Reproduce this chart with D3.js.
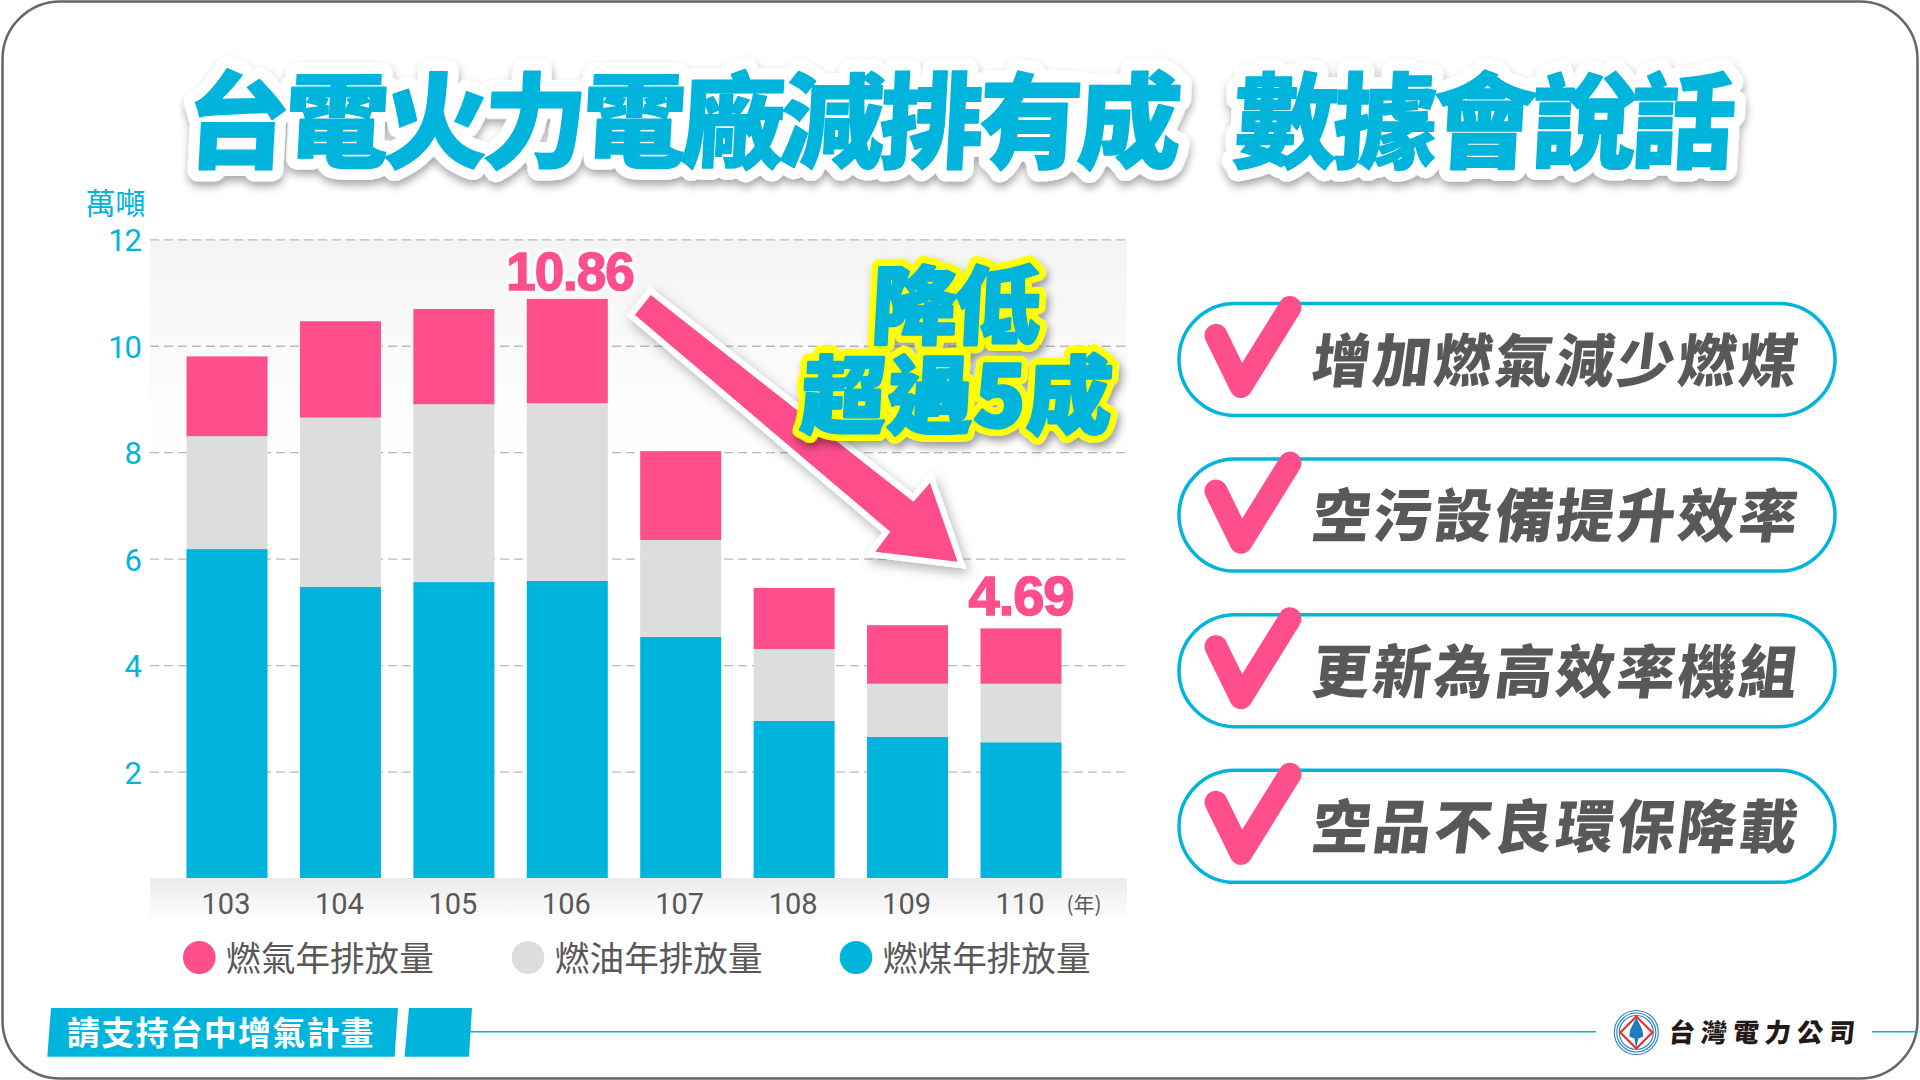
<!DOCTYPE html>
<html><head><meta charset="utf-8">
<script src="https://cdn.jsdelivr.net/npm/d3@7"></script>
<style>
html,body{margin:0;padding:0;background:#fff;overflow:hidden}
svg{display:block}
text{font-family:"Noto Sans CJK TC","Noto Sans",sans-serif}
.num{font-family:Roboto,"Liberation Sans",Arial,sans-serif}
.numb{font-family:"Liberation Sans",Arial,sans-serif}
</style></head><body>
<svg id="c" width="1920" height="1080" xmlns="http://www.w3.org/2000/svg"></svg>
<script>
// ---- data ----
const years = ["103","104","105","106","107","108","109","110"];
const coal  = [6.18,5.47,5.56,5.58,4.53,2.95,2.65,2.55];
const oil   = [2.12,3.18,3.34,3.34,1.82,1.35,1.00,1.10];
const gas   = [1.50,1.81,1.79,1.96,1.67,1.15,1.10,1.04];
const yTicks = [2,4,6,8,10,12];
const seriesKeys = ["coal","oil","gas"];
const seriesColors = ["#00b4dc","#dcdddd","#ff4e8c"];
const legendLabels = ["燃氣年排放量","燃油年排放量","燃煤年排放量"];
const legendColors = ["#ff4e8c","#dcdddd","#00b4dc"];
const pillLabels = ["增加燃氣減少燃煤","空污設備提升效率","更新為高效率機組","空品不良環保降載"];
const titleLeft = "台電火力電廠減排有成";
const titleRight = "數據會說話";
const callouts = ["10.86","4.69"];

const BLUE="#00b4dc", PINK="#ff4e8c", INK="#595757";
const svg=d3.select("#c");
const defs=svg.append("defs");

function shadow(id,dx,dy,b,op){
  const f=defs.append("filter").attr("id",id).attr("x","-20%").attr("y","-20%").attr("width","140%").attr("height","140%");
  f.append("feDropShadow").attr("dx",dx).attr("dy",dy).attr("stdDeviation",b).attr("flood-color","#000").attr("flood-opacity",op);
}
shadow("sTitle",1,5,4,.35);
shadow("sArrow",3,5,6,.3);
shadow("sBig",3,5,4,.4);

function vgrad(id,stops){
  const g=defs.append("linearGradient").attr("id",id).attr("x1",0).attr("x2",0).attr("y1",0).attr("y2",1);
  stops.forEach(s=>g.append("stop").attr("offset",s[0]).attr("stop-color",s[1]));
}
vgrad("gTop",[[0,"#f4f4f4"],[.5,"#fafafa"],[1,"#ffffff"]]);
vgrad("gBot",[[0,"#ebebeb"],[1,"#ffffff"]]);

// frame
svg.append("rect").attr("x",2.5).attr("y",1.5).attr("width",1915).attr("height",1077)
  .attr("rx",58).attr("fill","#fff").attr("stroke","#666").attr("stroke-width",2.5);

// scales
const x=d3.scaleBand().domain(years).range([186.5,1061.5]).paddingInner(0.2857).paddingOuter(0);
const y=d3.scaleLinear().domain([0,12]).range([878,239.3]);
const plotL=150, plotR=1127;

// plot backgrounds
svg.append("rect").attr("x",plotL).attr("y",y(12)).attr("width",plotR-plotL).attr("height",y(7.8)-y(12)).attr("fill","url(#gTop)");
svg.append("rect").attr("x",plotL).attr("y",y(0)).attr("width",plotR-plotL).attr("height",44).attr("fill","url(#gBot)");

// grid
const grid=svg.append("g").attr("transform",`translate(${plotL},0)`)
  .call(d3.axisRight(y).tickValues(yTicks).tickSize(plotR-plotL).tickFormat(""));
grid.select(".domain").remove();
grid.selectAll("line").attr("stroke","#b9b9b9").attr("stroke-width",1.3).attr("stroke-dasharray","9 5");

// y axis
const ya=svg.append("g").attr("transform","translate(141,0)")
  .call(d3.axisLeft(y).tickValues(yTicks).tickSize(0).tickPadding(0));
ya.select(".domain").remove();
ya.selectAll("text").attr("class","num").attr("font-size",31).attr("letter-spacing",-1).attr("fill",BLUE).attr("dy","0.37em");

svg.append("text").text("萬噸").attr("x",115.5).attr("y",214).attr("text-anchor","middle")
  .attr("font-size",30).attr("fill",BLUE);

// stacked bars
const rows=years.map((yr,i)=>({yr,coal:coal[i],oil:oil[i],gas:gas[i]}));
const stack=d3.stack().keys(seriesKeys)(rows);
svg.append("g").selectAll("g").data(stack).join("g")
  .attr("fill",(d,i)=>seriesColors[i])
  .selectAll("rect").data(d=>d).join("rect")
  .attr("x",d=>x(d.data.yr)).attr("width",x.bandwidth())
  .attr("y",d=>y(d[1])).attr("height",d=>y(d[0])-y(d[1]));

// x axis
const xa=svg.append("g").attr("transform",`translate(-1,${y(0)})`)
  .call(d3.axisBottom(x).tickSize(0).tickPadding(8));
xa.select(".domain").remove();
xa.selectAll("text").attr("class","num").attr("font-size",29).attr("fill",INK).attr("dy","0.95em");
svg.append("text").text("(年)").attr("x",1084).attr("y",912).attr("text-anchor","middle")
  .attr("font-size",21).attr("fill",INK);

// legend
const legX=[199.3,528,856];
const lg=svg.append("g").selectAll("g").data(legendLabels).join("g")
  .attr("transform",(d,i)=>`translate(${legX[i]},957.5)`);
lg.append("ellipse").attr("rx",16.3).attr("ry",16.5).attr("fill",(d,i)=>legendColors[i]);
lg.append("text").text(d=>d).attr("x",27).attr("y",13).attr("font-size",34.6).attr("fill",INK);

// arrow
const arrowPts=[[650.8,295],[913.5,501.7],[930,483],[957.6,561.7],[875.4,551.7],[890.3,531.7],[634.9,315]];
svg.append("path").attr("d",d3.line()(arrowPts)+"Z").attr("fill",PINK)
  .attr("stroke","#fff").attr("stroke-width",12).attr("stroke-linejoin","miter").attr("stroke-miterlimit",12)
  .attr("filter","url(#sArrow)").attr("paint-order","stroke");

// value call-outs
const coX=[570,1021], coY=[290,615], coFs=[53,56], coOut=[8,0];
callouts.forEach((c,i)=>{
  svg.append("text").attr("class","numb").text(c).attr("x",coX[i]).attr("y",coY[i]).attr("text-anchor","middle")
    .attr("font-size",coFs[i]).attr("font-weight",700).attr("letter-spacing",-1).attr("fill",PINK)
    .attr("stroke","#fff").attr("stroke-width",coOut[i]).attr("paint-order","stroke").attr("stroke-linejoin","round");
  svg.append("text").attr("class","numb").text(c).attr("x",coX[i]).attr("y",coY[i]).attr("text-anchor","middle")
    .attr("font-size",coFs[i]).attr("font-weight",700).attr("letter-spacing",-1).attr("fill",PINK)
    .attr("stroke",PINK).attr("stroke-width",1.5);
});

// big callout
function big(txt,cx,by,fs,ls){
  const g=svg.append("g").attr("transform",`translate(${cx},${by}) skewX(-3)`);
  g.append("text").text(txt).attr("text-anchor","middle").attr("font-size",fs).attr("font-weight",900).attr("letter-spacing",ls)
    .attr("fill","#ff0").attr("stroke","#ff0").attr("stroke-width",16).attr("stroke-linejoin","round").attr("filter","url(#sBig)");
  g.append("text").text(txt).attr("text-anchor","middle").attr("font-size",fs).attr("font-weight",900).attr("letter-spacing",ls)
    .attr("fill",BLUE).attr("stroke",BLUE).attr("stroke-width",3).attr("stroke-linejoin","round");
}
big("降低",954,337,85,-2);
big("超過5成",956,427,85,1.5);

// title
function title(txt,xx,fs,ls){
  const g=svg.append("g").attr("transform",`translate(${xx},160) skewX(-3)`);
  g.append("text").text(txt).attr("font-size",fs).attr("font-weight",900).attr("letter-spacing",ls)
    .attr("fill","#fff").attr("stroke","#fff").attr("stroke-width",23).attr("stroke-linejoin","round").attr("filter","url(#sTitle)");
  g.append("text").text(txt).attr("font-size",fs).attr("font-weight",900).attr("letter-spacing",ls)
    .attr("fill",BLUE).attr("stroke",BLUE).attr("stroke-width",1.5).attr("stroke-linejoin","round");
}
title(titleLeft,184,104,-4.9);
title(titleRight,1232,104,-4.6);

// pills
const pillG=svg.append("g").selectAll("g").data(pillLabels).join("g")
  .attr("transform",(d,i)=>`translate(1179,${303.5+155.6*i})`);
pillG.append("rect").attr("width",656).attr("height",112).attr("rx",56).attr("fill","#fff")
  .attr("stroke",BLUE).attr("stroke-width",3.5);
pillG.append("path").attr("d",d3.line()([[37,32],[62,83],[111,4]])).attr("fill","none").attr("stroke",PINK)
  .attr("stroke-width",23).attr("stroke-linecap","round").attr("stroke-linejoin","round");
pillG.append("text").text(d=>d).attr("transform","translate(131,78) skewX(-7)")
  .attr("font-size",58).attr("font-weight",900).attr("letter-spacing",3).attr("fill",INK);

// footer
svg.append("path").attr("d",d3.line()([[51,1008],[398,1008],[394.6,1056.7],[47.3,1056.7]])+"Z").attr("fill",BLUE);
svg.append("path").attr("d",d3.line()([[409,1008],[472,1008],[469,1056.7],[404.5,1056.7]])+"Z").attr("fill",BLUE);
svg.append("text").text("請支持台中增氣計畫").attr("x",67).attr("y",1045).attr("font-size",33).attr("font-weight",700)
  .attr("letter-spacing",1.2).attr("fill","#fff");
[[470,1596],[1872,1918]].forEach(s=>svg.append("line").attr("x1",s[0]).attr("x2",s[1]).attr("y1",1031.7).attr("y2",1031.7)
  .attr("stroke",BLUE).attr("stroke-width",1.5));

// logo
const lo=svg.append("g").attr("transform","translate(1636.3,1032.5)");
[22,19.5,17].forEach(r=>lo.append("circle").attr("r",r).attr("fill","none").attr("stroke","#2f86c5").attr("stroke-width",1.2));
lo.append("circle").attr("r",15).attr("fill","#fff");
lo.append("path").attr("d","M-16 0L0 -16L16 0L0 16Z").attr("fill","none").attr("stroke","#e8322c").attr("stroke-width",2.2);
lo.append("path").attr("d","M0 -15L6 -3L7 4L2 6L0 16L-2 6L-7 4L-6 -3Z").attr("fill","#1f7cc0");
svg.append("g").attr("transform","translate(1668,1042) skewX(-6)").append("text").text("台灣電力公司")
  .attr("font-size",26).attr("font-weight",900).attr("letter-spacing",6).attr("fill","#231815");
</script></body></html>
